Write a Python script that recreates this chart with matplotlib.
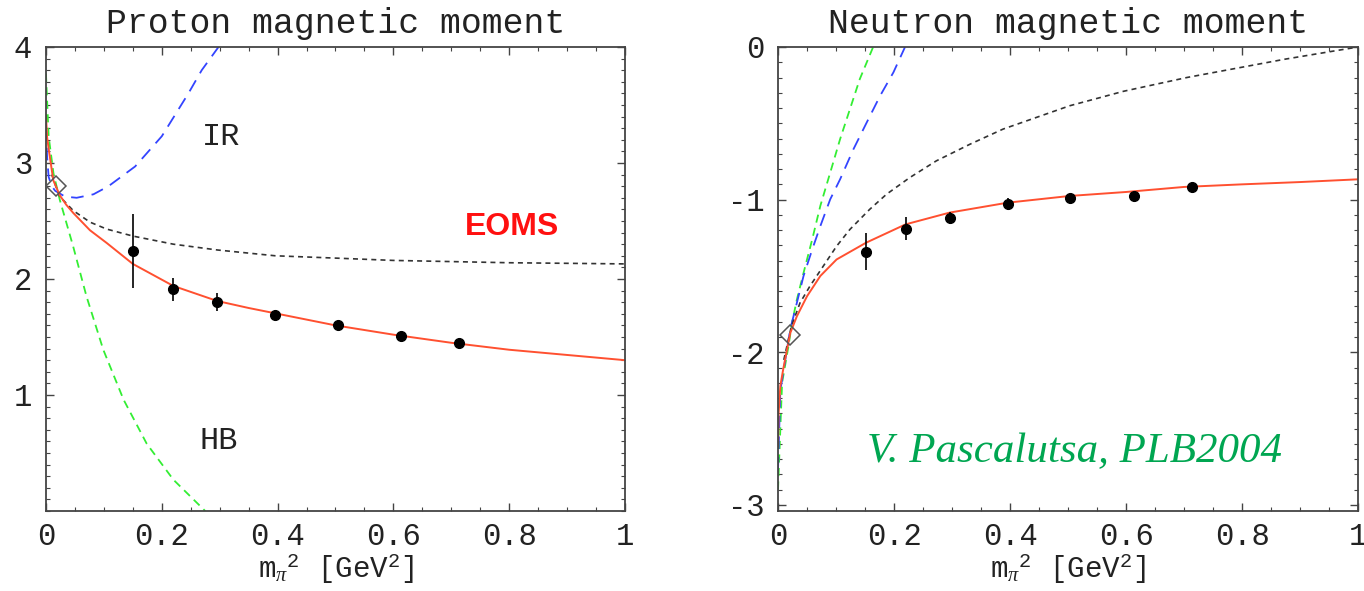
import numpy as np
import matplotlib
matplotlib.use("Agg")
import matplotlib.pyplot as plt
from matplotlib.ticker import MultipleLocator

plt.rcParams['font.family'] = ['Liberation Mono', 'DejaVu Sans']
plt.rcParams['mathtext.fontset'] = 'custom'
plt.rcParams['mathtext.rm'] = 'Liberation Mono'
plt.rcParams['mathtext.it'] = 'Liberation Serif:italic'

# ---- proton panel data ----
p_lat_x = [0.15, 0.22, 0.296, 0.396, 0.505, 0.614, 0.714]
p_lat_y = [2.24, 1.91, 1.80, 1.69, 1.60, 1.51, 1.45]
p_lat_err = [0.32, 0.10, 0.075, 0.03, 0.03, 0.02, 0.02]

p_eoms_x = [0, 0.002, 0.005, 0.0127, 0.024, 0.035, 0.047, 0.076, 0.105, 0.15, 0.22,
            0.296, 0.35, 0.4, 0.5, 0.6, 0.7, 0.8, 0.9, 1.0]
p_eoms_y = [3.41, 3.22, 3.11, 2.85, 2.72, 2.64, 2.57, 2.42, 2.31, 2.13, 1.94,
            1.81, 1.75, 1.70, 1.60, 1.52, 1.45, 1.39, 1.345, 1.30]

p_bl_x = [0.01, 0.017, 0.024, 0.047, 0.076, 0.105, 0.15, 0.22, 0.296, 0.396, 0.5,
          0.6, 0.7, 0.8, 0.9, 1.0]
p_bl_y = [2.90, 2.80, 2.71, 2.59, 2.49, 2.43, 2.37, 2.30, 2.25, 2.20, 2.18,
          2.16, 2.15, 2.14, 2.135, 2.13]

p_ir_x = [0, 0.002, 0.0046, 0.01, 0.016, 0.033, 0.053, 0.082, 0.108, 0.154, 0.2,
          0.246, 0.269, 0.298]
p_ir_y = [3.31, 3.05, 2.88, 2.80, 2.76, 2.71, 2.70, 2.73, 2.80, 2.97, 3.23,
          3.60, 3.80, 4.0]

p_hb_x = [0, 0.0046, 0.013, 0.024, 0.047, 0.07, 0.099, 0.134, 0.174, 0.22, 0.275]
p_hb_y = [3.77, 3.23, 2.91, 2.68, 2.28, 1.85, 1.39, 0.96, 0.58, 0.27, 0.0]

p_phys = (0.018, 2.80)

# ---- neutron panel data ----
n_lat_x = [0.152, 0.22, 0.296, 0.396, 0.504, 0.613, 0.713]
n_lat_y = [-1.34, -1.19, -1.12, -1.03, -0.99, -0.975, -0.92]
n_lat_err = [0.12, 0.075, 0.04, 0.04, 0.03, 0.02, 0.02]

n_eoms_x = [0, 0.001, 0.004, 0.009, 0.021, 0.0325, 0.05, 0.073, 0.101, 0.152, 0.22,
            0.296, 0.396, 0.503, 0.6, 0.7, 0.8, 0.9, 1.0]
n_eoms_y = [-2.62, -2.40, -2.22, -2.11, -1.875, -1.764, -1.633, -1.50, -1.392, -1.282, -1.162,
            -1.085, -1.02, -0.976, -0.95, -0.917, -0.90, -0.885, -0.867]

n_bl_x = [0.01, 0.023, 0.038, 0.055, 0.078, 0.101, 0.124, 0.158, 0.187, 0.227, 0.273,
          0.331, 0.388, 0.503, 0.596, 0.705, 0.874, 1.0]
n_bl_y = [-2.05, -1.83, -1.676, -1.567, -1.436, -1.305, -1.195, -1.064, -0.965, -0.856, -0.746,
          -0.637, -0.538, -0.385, -0.29, -0.20, -0.08, 0.0]

n_ir_x = [0, 0.004, 0.021, 0.0325, 0.044, 0.059, 0.073, 0.090, 0.107, 0.130, 0.153,
          0.176, 0.199, 0.219]
n_ir_y = [-2.77, -2.25, -1.85, -1.676, -1.50, -1.326, -1.173, -0.998, -0.867, -0.67, -0.494,
          -0.32, -0.166, 0.0]

n_hb_x = [0, 0.007, 0.018, 0.024, 0.0325, 0.044, 0.059, 0.073, 0.09, 0.107, 0.124,
          0.141, 0.164]
n_hb_y = [-2.9, -2.2, -1.96, -1.81, -1.655, -1.48, -1.26, -1.04, -0.823, -0.604, -0.407,
          -0.21, 0.0]

n_phys = (0.021, -1.89)

red = '#ff5030'
blue = '#3344ff'
green = '#33ee33'
dark = '#333333'
xlab = r'm$_{\pi}$$^{2}$ [GeV$^{2}$]'


def style_axes(ax):
    for s in ax.spines.values():
        s.set_color('#444444')
        s.set_linewidth(1.3)
    ax.tick_params(which='both', direction='in', top=True, right=True,
                   colors='#444444', labelcolor='#222222', labelsize=22)
    ax.tick_params(which='major', length=6, width=1.0)
    ax.tick_params(which='minor', length=3, width=0.8)
    ax.tick_params(axis='x', pad=8)
    ax.tick_params(axis='y', pad=10)
    ax.set_xlim(0, 1)
    ax.xaxis.set_minor_locator(MultipleLocator(0.05))
    ax.yaxis.set_minor_locator(MultipleLocator(0.1))
    ax.set_xticks([0, 0.2, 0.4, 0.6, 0.8, 1.0])
    ax.set_xticklabels(['0', '0.2', '0.4', '0.6', '0.8', '1'])
    ax.set_xlabel(xlab, fontsize=21, labelpad=0, color='#222222')


def draw_panel(ax, eoms, bl, ir, hb, lat, phys):
    ax.plot(hb[0], hb[1], color=green, lw=1.3, dashes=(4.5, 3))
    ax.plot(ir[0], ir[1], color=blue, lw=1.3, dashes=(7, 4.5))
    ax.plot(bl[0], bl[1], color=dark, lw=1.2, dashes=(3, 2.5))
    ax.plot(eoms[0], eoms[1], color=red, lw=1.4)
    ax.errorbar(lat[0], lat[1], yerr=lat[2], fmt='o', color='black', ms=7,
                elinewidth=1.2, capsize=0, zorder=5)
    ax.plot([phys[0]], [phys[1]], marker='D', ms=10, mfc='none', mec='#555555',
            mew=1.1, zorder=6)


fig = plt.figure(figsize=(13.64, 5.91), dpi=100)
ax1 = fig.add_axes([0.0337, 0.1354, 0.4245, 0.7851])
ax2 = fig.add_axes([0.5704, 0.1354, 0.4252, 0.7851])

# proton
draw_panel(ax1, (p_eoms_x, p_eoms_y), (p_bl_x, p_bl_y), (p_ir_x, p_ir_y),
           (p_hb_x, p_hb_y), (p_lat_x, p_lat_y, p_lat_err), p_phys)
style_axes(ax1)
ax1.set_ylim(0, 4)
ax1.set_yticks([1, 2, 3, 4])
ax1.set_yticklabels(['1', '2', '3', '4'])
ax1.set_title('Proton magnetic moment', fontsize=25, pad=10, color='#222222')
ax1.text(0.303, 3.22, 'IR', fontsize=23, ha='center', va='center', color='#222222')
ax1.text(0.298, 0.60, 'HB', fontsize=23, ha='center', va='center', color='#222222')
ax1.text(0.805, 2.45, 'EOMS', fontsize=23, ha='center', va='center', color='#ff1010',
         family='Liberation Sans', weight='bold')

# neutron
draw_panel(ax2, (n_eoms_x, n_eoms_y), (n_bl_x, n_bl_y), (n_ir_x, n_ir_y),
           (n_hb_x, n_hb_y), (n_lat_x, n_lat_y, n_lat_err), n_phys)
style_axes(ax2)
ax2.set_ylim(-3.04, 0)
ax2.set_yticks([-3, -2, -1, 0])
ax2.set_yticklabels(['-3', '-2', '-1', '0'])
ax2.set_title('Neutron magnetic moment', fontsize=25, pad=10, color='#222222')
ax2.text(0.512, -2.65, 'V. Pascalutsa, PLB2004', fontsize=31, ha='center', va='center',
         color='#00a651', family='Liberation Serif', style='italic')

fig.savefig('out.png', dpi=100)
